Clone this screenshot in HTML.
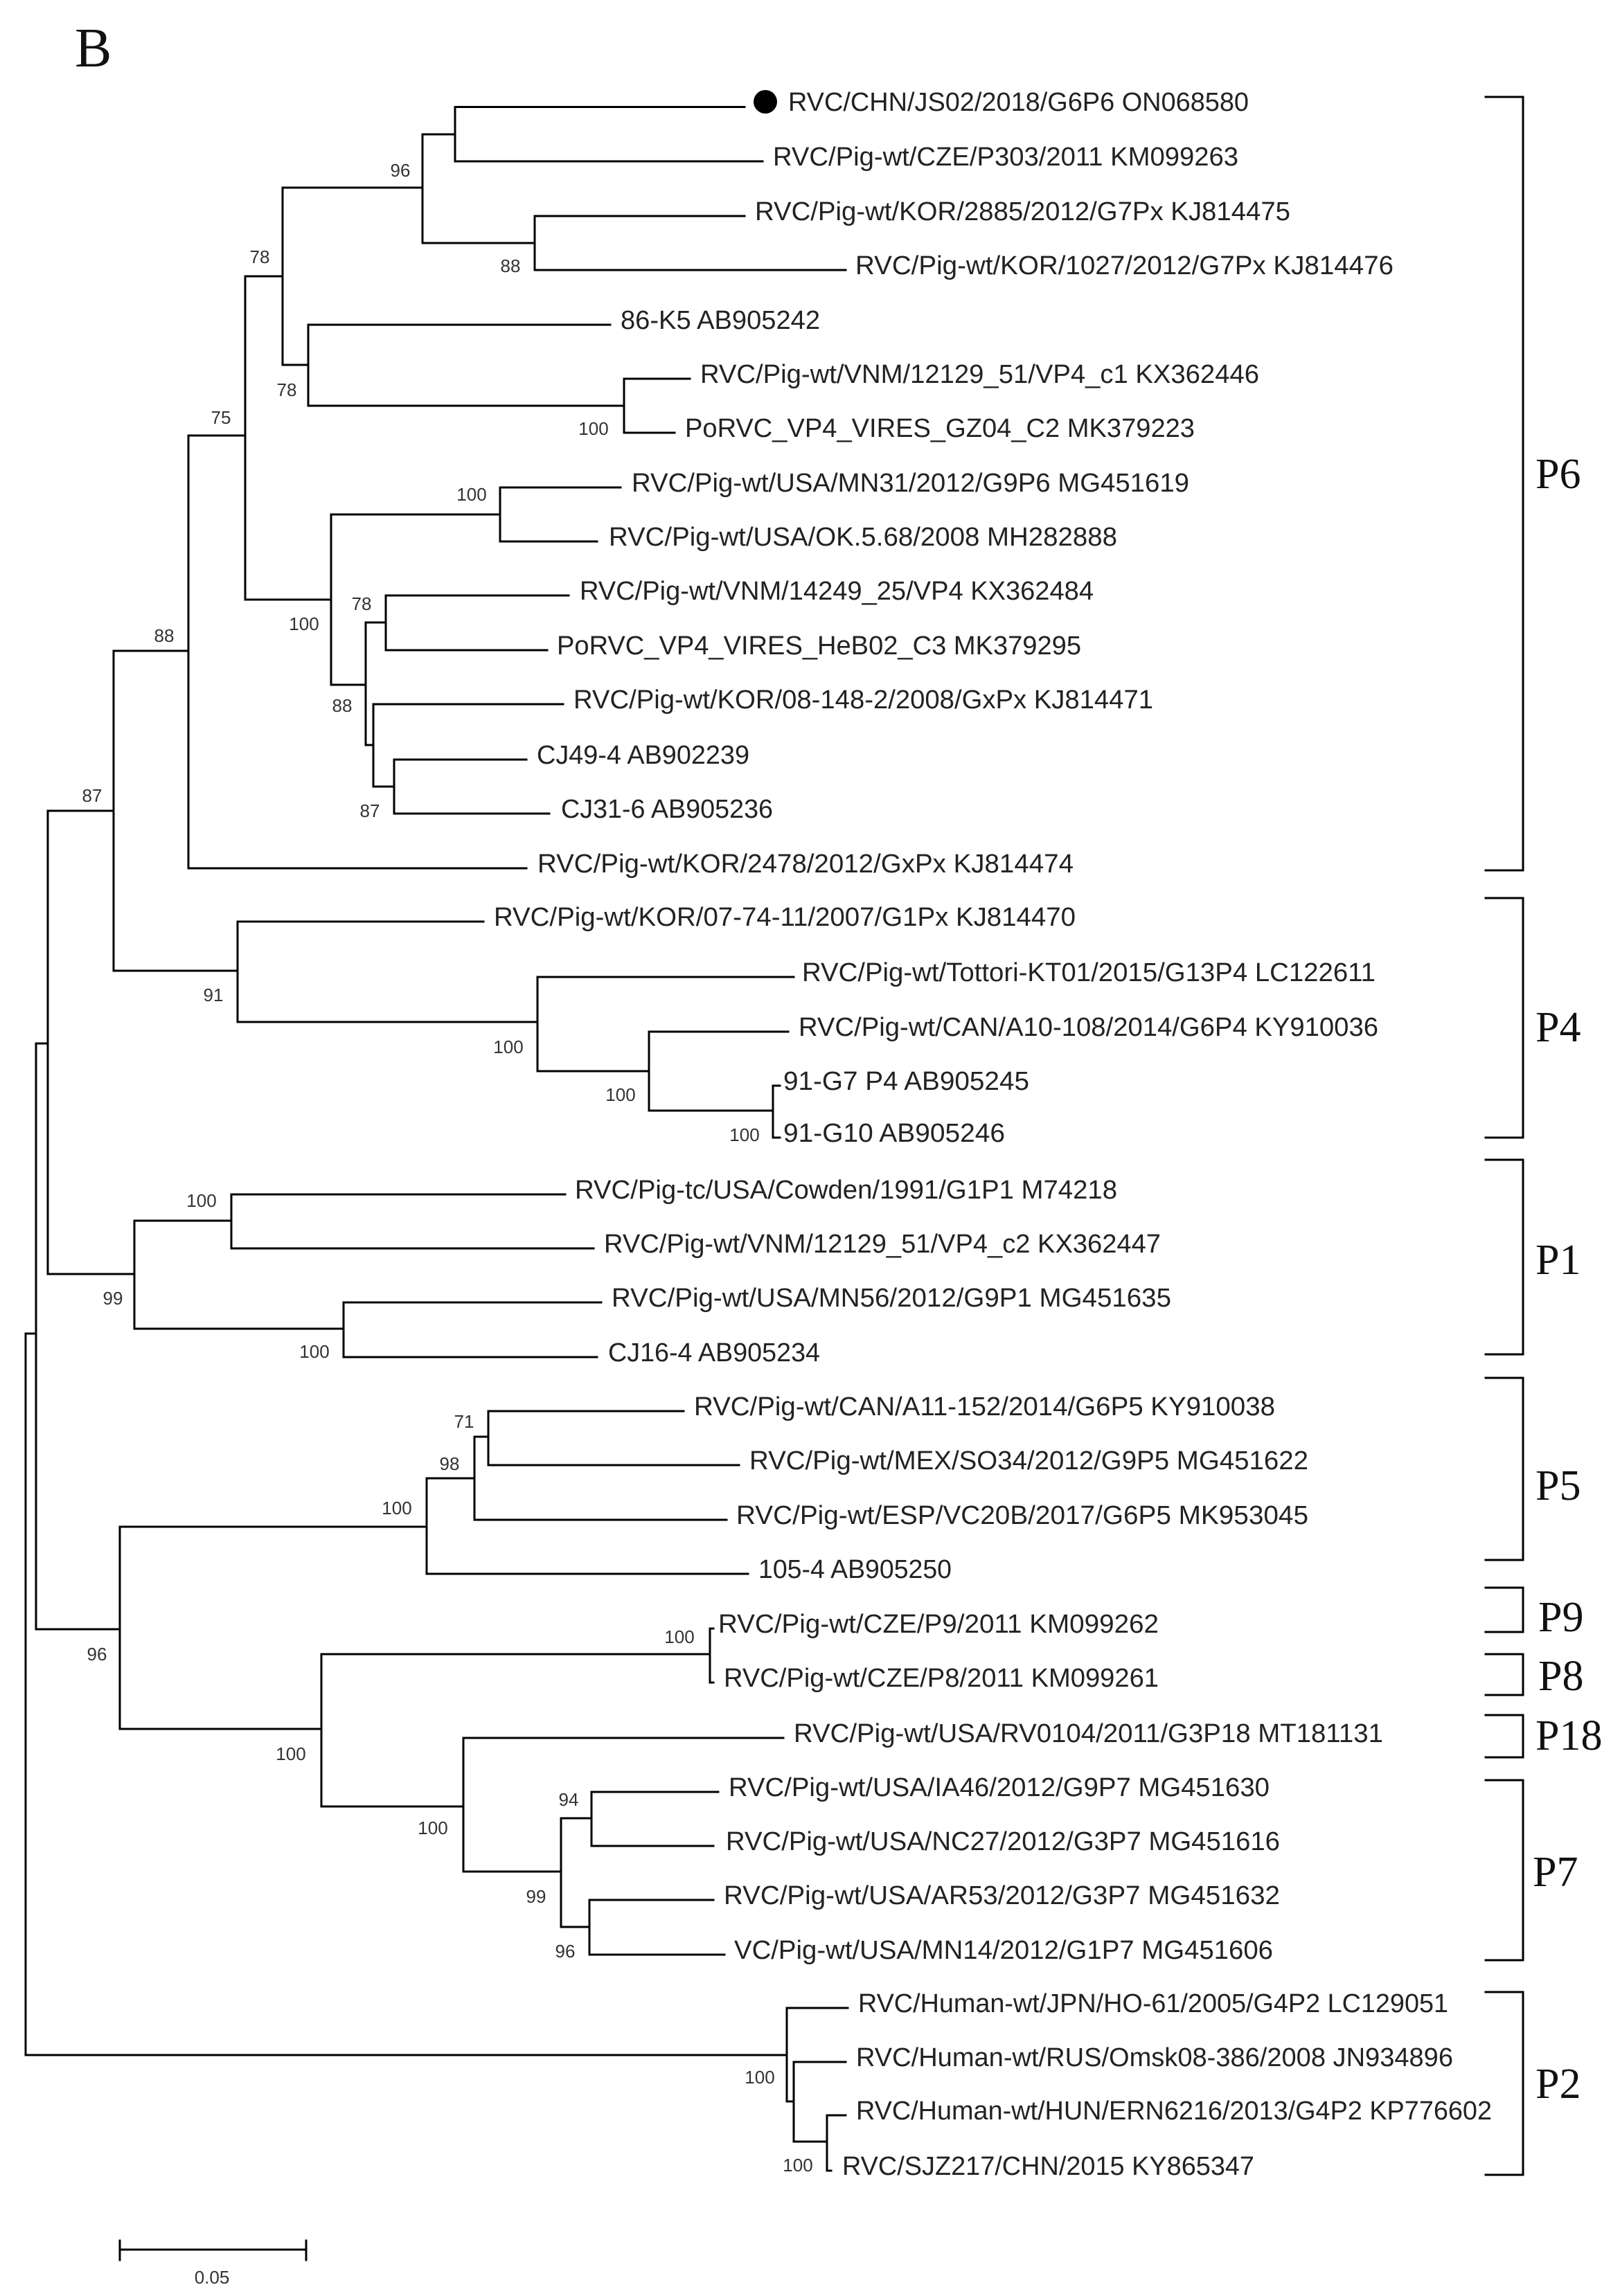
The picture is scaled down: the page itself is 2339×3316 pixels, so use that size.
<!DOCTYPE html>
<html><head><meta charset="utf-8"><style>
html,body{margin:0;padding:0;background:#fff;}
svg{display:block;}
.l{font-family:"Liberation Sans",Arial,sans-serif;font-size:38px;fill:#222;}
.b{font-family:"Liberation Sans",Arial,sans-serif;font-size:26px;fill:#333;text-anchor:middle;}
.p{font-family:"Liberation Serif","Times New Roman",serif;font-size:62px;fill:#111;}
</style></head><body>
<svg width="2339" height="3316" viewBox="0 0 2339 3316" xmlns="http://www.w3.org/2000/svg">
<text x="108" y="96" class="p" style="font-size:80px">B</text>
<g stroke="#000" stroke-width="3" fill="none" stroke-linecap="square">
<path d="M657 154.5V233M657 154.5H1075M657 233H1101"/>
<path d="M610 194V351M610 194H657M610 351H772"/>
<path d="M772 312V390M772 312H1075M772 390H1221"/>
<path d="M408 271V527M408 271H610M408 527H445"/>
<path d="M445 469V586M445 469H881M445 586H901"/>
<path d="M901 547V625M901 547H996M901 625H974"/>
<path d="M354 399V866M354 399H408M354 866H478"/>
<path d="M478 743V989M478 743H722M478 989H528"/>
<path d="M722 704V782M722 704H896M722 782H862"/>
<path d="M528 899V1076M528 899H557M528 1076H539"/>
<path d="M557 860V939M557 860H821M557 939H790"/>
<path d="M539 1017V1136M539 1017H813M539 1136H569"/>
<path d="M569 1097V1175M569 1097H760M569 1175H793"/>
<path d="M272 629V1254M272 629H354M272 1254H760"/>
<path d="M164 940V1402M164 940H272M164 1402H343"/>
<path d="M343 1331V1476M343 1331H698M343 1476H776"/>
<path d="M776 1411V1547M776 1411H1146M776 1547H937"/>
<path d="M937 1490V1604M937 1490H1138M937 1604H1116"/>
<path d="M1116 1568V1643M1116 1568H1126M1116 1643H1126"/>
<path d="M69 1171V1840M69 1171H164M69 1840H194"/>
<path d="M194 1763V1919M194 1763H334M194 1919H496"/>
<path d="M334 1725V1803M334 1725H816M334 1803H857"/>
<path d="M496 1881V1960M496 1881H868M496 1960H862"/>
<path d="M52 1507V2353M52 1507H69M52 2353H173"/>
<path d="M37 1926V2968M37 1926H52M37 2968H1136"/>
<path d="M173 2205V2497M173 2205H616M173 2497H464"/>
<path d="M616 2135V2273M616 2135H685M616 2273H1080"/>
<path d="M685 2075V2195M685 2075H705M685 2195H1049"/>
<path d="M705 2038V2116M705 2038H987M705 2116H1067"/>
<path d="M464 2389V2609M464 2389H1025M464 2609H669"/>
<path d="M1025 2352V2430M1025 2352H1030M1025 2430H1030"/>
<path d="M669 2510V2703M669 2510H1131M669 2703H810"/>
<path d="M810 2626V2783M810 2626H854M810 2783H851"/>
<path d="M854 2588V2666M854 2588H1037M854 2666H1030"/>
<path d="M851 2744V2823M851 2744H1030M851 2823H1046"/>
<path d="M1136 2900V3035M1136 2900H1224M1136 3035H1146"/>
<path d="M1146 2978V3093M1146 2978H1221M1146 3093H1194"/>
<path d="M1194 3055V3135M1194 3055H1221M1194 3135H1200"/>
<path d="M173 3249H442M173 3236V3264M442 3236V3264"/>
<path d="M2145 140H2199V1257H2145"/>
<path d="M2145 1297H2199V1643H2145"/>
<path d="M2145 1675H2199V1956H2145"/>
<path d="M2145 1990H2199V2253H2145"/>
<path d="M2145 2293H2199V2357H2145"/>
<path d="M2145 2389H2199V2448H2145"/>
<path d="M2145 2477H2199V2538H2145"/>
<path d="M2145 2571H2199V2831H2145"/>
<path d="M2145 2877H2199V3141H2145"/>
</g>
<circle cx="1105" cy="147" r="17" fill="#000"/>
<g class="l" lengthAdjust="spacingAndGlyphs">
<text x="1138" y="160" textLength="665" lengthAdjust="spacingAndGlyphs">RVC/CHN/JS02/2018/G6P6 ON068580</text>
<text x="1116" y="239" textLength="672" lengthAdjust="spacingAndGlyphs">RVC/Pig-wt/CZE/P303/2011 KM099263</text>
<text x="1090" y="318" textLength="773" lengthAdjust="spacingAndGlyphs">RVC/Pig-wt/KOR/2885/2012/G7Px KJ814475</text>
<text x="1235" y="396" textLength="777" lengthAdjust="spacingAndGlyphs">RVC/Pig-wt/KOR/1027/2012/G7Px KJ814476</text>
<text x="896" y="475" textLength="288" lengthAdjust="spacingAndGlyphs">86-K5 AB905242</text>
<text x="1011" y="553" textLength="807" lengthAdjust="spacingAndGlyphs">RVC/Pig-wt/VNM/12129_51/VP4_c1 KX362446</text>
<text x="989" y="631" textLength="736" lengthAdjust="spacingAndGlyphs">PoRVC_VP4_VIRES_GZ04_C2 MK379223</text>
<text x="912" y="710" textLength="805" lengthAdjust="spacingAndGlyphs">RVC/Pig-wt/USA/MN31/2012/G9P6 MG451619</text>
<text x="879" y="788" textLength="734" lengthAdjust="spacingAndGlyphs">RVC/Pig-wt/USA/OK.5.68/2008 MH282888</text>
<text x="837" y="866" textLength="742" lengthAdjust="spacingAndGlyphs">RVC/Pig-wt/VNM/14249_25/VP4 KX362484</text>
<text x="804" y="945" textLength="757" lengthAdjust="spacingAndGlyphs">PoRVC_VP4_VIRES_HeB02_C3 MK379295</text>
<text x="828" y="1023" textLength="837" lengthAdjust="spacingAndGlyphs">RVC/Pig-wt/KOR/08-148-2/2008/GxPx KJ814471</text>
<text x="775" y="1103" textLength="307" lengthAdjust="spacingAndGlyphs">CJ49-4 AB902239</text>
<text x="810" y="1181" textLength="306" lengthAdjust="spacingAndGlyphs">CJ31-6 AB905236</text>
<text x="776" y="1260" textLength="774" lengthAdjust="spacingAndGlyphs">RVC/Pig-wt/KOR/2478/2012/GxPx KJ814474</text>
<text x="713" y="1337" textLength="840" lengthAdjust="spacingAndGlyphs">RVC/Pig-wt/KOR/07-74-11/2007/G1Px KJ814470</text>
<text x="1158" y="1417" textLength="828" lengthAdjust="spacingAndGlyphs">RVC/Pig-wt/Tottori-KT01/2015/G13P4 LC122611</text>
<text x="1153" y="1496" textLength="837" lengthAdjust="spacingAndGlyphs">RVC/Pig-wt/CAN/A10-108/2014/G6P4 KY910036</text>
<text x="1131" y="1574" textLength="355" lengthAdjust="spacingAndGlyphs">91-G7 P4 AB905245</text>
<text x="1131" y="1649" textLength="320" lengthAdjust="spacingAndGlyphs">91-G10 AB905246</text>
<text x="830" y="1731" textLength="783" lengthAdjust="spacingAndGlyphs">RVC/Pig-tc/USA/Cowden/1991/G1P1 M74218</text>
<text x="872" y="1809" textLength="804" lengthAdjust="spacingAndGlyphs">RVC/Pig-wt/VNM/12129_51/VP4_c2 KX362447</text>
<text x="883" y="1887" textLength="808" lengthAdjust="spacingAndGlyphs">RVC/Pig-wt/USA/MN56/2012/G9P1 MG451635</text>
<text x="878" y="1966" textLength="306" lengthAdjust="spacingAndGlyphs">CJ16-4 AB905234</text>
<text x="1002" y="2044" textLength="839" lengthAdjust="spacingAndGlyphs">RVC/Pig-wt/CAN/A11-152/2014/G6P5 KY910038</text>
<text x="1082" y="2122" textLength="807" lengthAdjust="spacingAndGlyphs">RVC/Pig-wt/MEX/SO34/2012/G9P5 MG451622</text>
<text x="1063" y="2201" textLength="826" lengthAdjust="spacingAndGlyphs">RVC/Pig-wt/ESP/VC20B/2017/G6P5 MK953045</text>
<text x="1095" y="2279" textLength="279" lengthAdjust="spacingAndGlyphs">105-4 AB905250</text>
<text x="1037" y="2358" textLength="636" lengthAdjust="spacingAndGlyphs">RVC/Pig-wt/CZE/P9/2011 KM099262</text>
<text x="1045" y="2436" textLength="628" lengthAdjust="spacingAndGlyphs">RVC/Pig-wt/CZE/P8/2011 KM099261</text>
<text x="1146" y="2516" textLength="851" lengthAdjust="spacingAndGlyphs">RVC/Pig-wt/USA/RV0104/2011/G3P18 MT181131</text>
<text x="1052" y="2594" textLength="781" lengthAdjust="spacingAndGlyphs">RVC/Pig-wt/USA/IA46/2012/G9P7 MG451630</text>
<text x="1048" y="2672" textLength="800" lengthAdjust="spacingAndGlyphs">RVC/Pig-wt/USA/NC27/2012/G3P7 MG451616</text>
<text x="1045" y="2750" textLength="803" lengthAdjust="spacingAndGlyphs">RVC/Pig-wt/USA/AR53/2012/G3P7 MG451632</text>
<text x="1060" y="2829" textLength="778" lengthAdjust="spacingAndGlyphs">VC/Pig-wt/USA/MN14/2012/G1P7 MG451606</text>
<text x="1239" y="2906" textLength="852" lengthAdjust="spacingAndGlyphs">RVC/Human-wt/JPN/HO-61/2005/G4P2 LC129051</text>
<text x="1236" y="2984" textLength="862" lengthAdjust="spacingAndGlyphs">RVC/Human-wt/RUS/Omsk08-386/2008 JN934896</text>
<text x="1236" y="3061" textLength="918" lengthAdjust="spacingAndGlyphs">RVC/Human-wt/HUN/ERN6216/2013/G4P2 KP776602</text>
<text x="1216" y="3141" textLength="595" lengthAdjust="spacingAndGlyphs">RVC/SJZ217/CHN/2015 KY865347</text>
</g>
<g class="b">
<text x="578" y="255">96</text><text x="737" y="393">88</text><text x="375" y="380">78</text>
<text x="414" y="572">78</text><text x="857" y="628">100</text><text x="319" y="612">75</text>
<text x="681" y="723">100</text><text x="439" y="910">100</text><text x="522" y="881">78</text>
<text x="494" y="1028">88</text><text x="534" y="1180">87</text><text x="237" y="927">88</text>
<text x="133" y="1158">87</text><text x="308" y="1446">91</text><text x="734" y="1521">100</text>
<text x="896" y="1590">100</text><text x="1075" y="1648">100</text><text x="163" y="1884">99</text>
<text x="291" y="1743">100</text><text x="454" y="1961">100</text><text x="140" y="2398">96</text>
<text x="573" y="2187">100</text><text x="649" y="2123">98</text><text x="670" y="2062">71</text>
<text x="981" y="2373">100</text><text x="420" y="2542">100</text><text x="625" y="2649">100</text>
<text x="774" y="2748">99</text><text x="821" y="2608">94</text><text x="816" y="2827">96</text>
<text x="1097" y="3009">100</text><text x="1152" y="3136">100</text>
<text x="306" y="3298">0.05</text>
</g>
<g class="p">
<text x="2217" y="705">P6</text>
<text x="2217" y="1504">P4</text>
<text x="2217" y="1840">P1</text>
<text x="2217" y="2166">P5</text>
<text x="2221" y="2356">P9</text>
<text x="2221" y="2441">P8</text>
<text x="2217" y="2527">P18</text>
<text x="2213" y="2724">P7</text>
<text x="2217" y="3030">P2</text>
</g>
</svg>
</body></html>
